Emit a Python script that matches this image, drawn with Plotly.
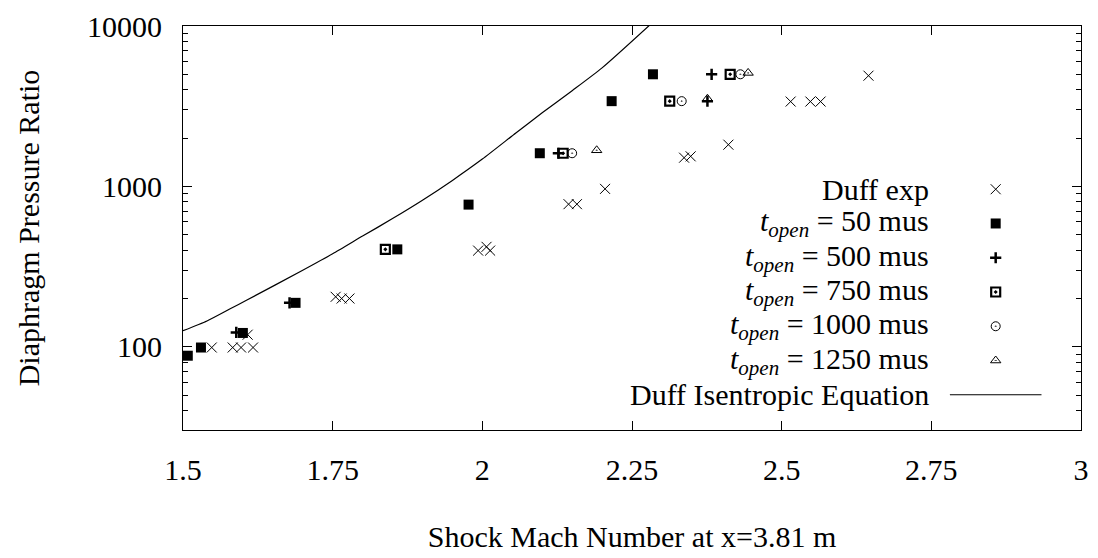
import plotly.graph_objects as go

# Duff experimental points
duff_x = [1.548, 1.583, 1.597, 1.617, 1.608, 1.755, 1.765, 1.778, 1.993, 2.007, 2.013,
          2.144, 2.158, 2.205, 2.337, 2.348, 2.411, 2.515, 2.548, 2.565, 2.645]
duff_y = [99, 99, 99, 99, 119, 205, 200, 200, 398, 420, 398,
          775, 775, 965, 1510, 1540, 1820, 3380, 3380, 3380, 4900]

# Simulations, by diaphragm opening time
t50_x = [1.508, 1.530, 1.600, 1.688, 1.858, 1.977, 2.096, 2.216, 2.285]
t50_y = [88, 99, 122, 188, 405, 770, 1610, 3400, 5000]

t500_x = [1.589, 1.678, 2.127, 2.376, 2.383]
t500_y = [123, 188, 1610, 3400, 5000]

t750_x = [1.838, 2.135, 2.313, 2.414]
t750_y = [405, 1610, 3400, 5000]

t1000_x = [2.150, 2.333, 2.431]
t1000_y = [1610, 3400, 5000]

t1250_x = [2.191, 2.376, 2.444]
t1250_y = [1680, 3520, 5100]

# Duff isentropic relation
iso_x = [1.50, 1.54, 1.578, 1.606, 1.70, 1.75, 1.80, 1.85, 1.90, 1.95, 2.00, 2.056, 2.10, 2.15, 2.20, 2.29]
iso_y = [126, 145, 172, 195, 300, 380, 490, 630, 820, 1090, 1480, 2153, 2877, 3950, 5480, 11000]

legend_labels = [
    "Duff exp",
    "<i>t</i><sub><i>open</i></sub> = 50 mus",
    "<i>t</i><sub><i>open</i></sub> = 500 mus",
    "<i>t</i><sub><i>open</i></sub> = 750 mus",
    "<i>t</i><sub><i>open</i></sub> = 1000 mus",
    "<i>t</i><sub><i>open</i></sub> = 1250 mus",
    "Duff Isentropic Equation",
]

FONT = "Liberation Serif"
FSIZE = 30
BLACK = "#000000"

styles = [
    dict(symbol="x-thin-open", size=10, line=dict(width=1, color=BLACK), color=BLACK),
    dict(symbol="square", size=10, color=BLACK, line=dict(width=0)),
    dict(symbol="cross-thin-open", size=8, line=dict(width=2.5, color=BLACK), color=BLACK),
    dict(symbol="square-open-dot", size=9, line=dict(width=2.2, color=BLACK), color=BLACK),
    dict(symbol="circle-open-dot", size=9, line=dict(width=1, color=BLACK), color=BLACK),
    dict(symbol="triangle-up-open-dot", size=9, line=dict(width=1, color=BLACK), color=BLACK),
]

series = [
    (iso_x, iso_y, None),
    (duff_x, duff_y, styles[0]),
    (t50_x, t50_y, styles[1]),
    (t500_x, t500_y, styles[2]),
    (t750_x, t750_y, styles[3]),
    (t1000_x, t1000_y, styles[4]),
    (t1250_x, t1250_y, styles[5]),
]

fig = go.Figure()
for xs, ys, st in series:
    if st is None:
        fig.add_trace(go.Scatter(x=xs, y=ys, mode="lines", line_shape="spline",
                                 line=dict(color=BLACK, width=1.2, smoothing=0.6),
                                 showlegend=False))
    else:
        fig.add_trace(go.Scatter(x=xs, y=ys, mode="markers", marker=st, showlegend=False))

# Key: right-aligned labels, samples drawn on an overlay in plot-fraction units
row_top = 0.596
row_step = 0.0848
text_x = 0.833
sym_x = 0.905
for i, lab in enumerate(legend_labels):
    yy = row_top - i * row_step
    fig.add_annotation(x=text_x, y=yy, xref="paper", yref="paper", text=lab,
                       showarrow=False, xanchor="right", yanchor="middle",
                       font=dict(family=FONT, size=FSIZE, color=BLACK))
    if i < 6:
        fig.add_trace(go.Scatter(x=[sym_x], y=[yy], xaxis="x2", yaxis="y2",
                                 mode="markers", marker=styles[i], showlegend=False,
                                 cliponaxis=False))
    else:
        fig.add_trace(go.Scatter(x=[0.854, 0.956], y=[yy, yy], xaxis="x2", yaxis="y2",
                                 mode="lines", line=dict(color=BLACK, width=1.2),
                                 showlegend=False, cliponaxis=False))

fig.update_layout(
    width=1098, height=558,
    margin=dict(l=183, r=9, t=26, b=128),
    paper_bgcolor="white", plot_bgcolor="white",
    font=dict(family=FONT, size=FSIZE, color=BLACK),
    showlegend=False,
    xaxis=dict(
        range=[1.5, 3], tickvals=[1.5, 1.75, 2, 2.25, 2.5, 2.75, 3],
        ticktext=["1.5", "1.75", "2", "2.25", "2.5", "2.75", "3"],
        ticks="inside", ticklen=9, tickcolor=BLACK, tickwidth=1,
        showline=True, linecolor=BLACK, linewidth=1.2, mirror="ticks",
        showgrid=False, zeroline=False, ticklabelstandoff=13,
        ticklabeloverflow="allow",
        tickfont=dict(family=FONT, size=FSIZE),
        title=dict(text="Shock Mach Number at x=3.81 m", standoff=40,
                   font=dict(family=FONT, size=FSIZE)),
    ),
    yaxis=dict(
        type="log", range=[1.4814, 4.0],
        tickvals=[100, 1000, 10000], ticktext=["100", "1000", "10000"],
        ticks="inside", ticklen=9, tickcolor=BLACK, tickwidth=1,
        minor=dict(ticks="inside", ticklen=5, tickcolor=BLACK,
                   tickvals=[40, 50, 60, 70, 80, 90,
                             200, 300, 400, 500, 600, 700, 800, 900,
                             2000, 3000, 4000, 5000, 6000, 7000, 8000, 9000]),
        showline=True, linecolor=BLACK, linewidth=1.2, mirror="ticks",
        showgrid=False, zeroline=False, ticklabelstandoff=14,
        ticklabeloverflow="allow",
        tickfont=dict(family=FONT, size=FSIZE),
        title=dict(text="Diaphragm Pressure Ratio", standoff=38,
                   font=dict(family=FONT, size=FSIZE)),
    ),
    xaxis2=dict(overlaying="x", range=[0, 1], visible=False),
    yaxis2=dict(overlaying="y", range=[0, 1], visible=False),
)

fig.write_html("out.html")
